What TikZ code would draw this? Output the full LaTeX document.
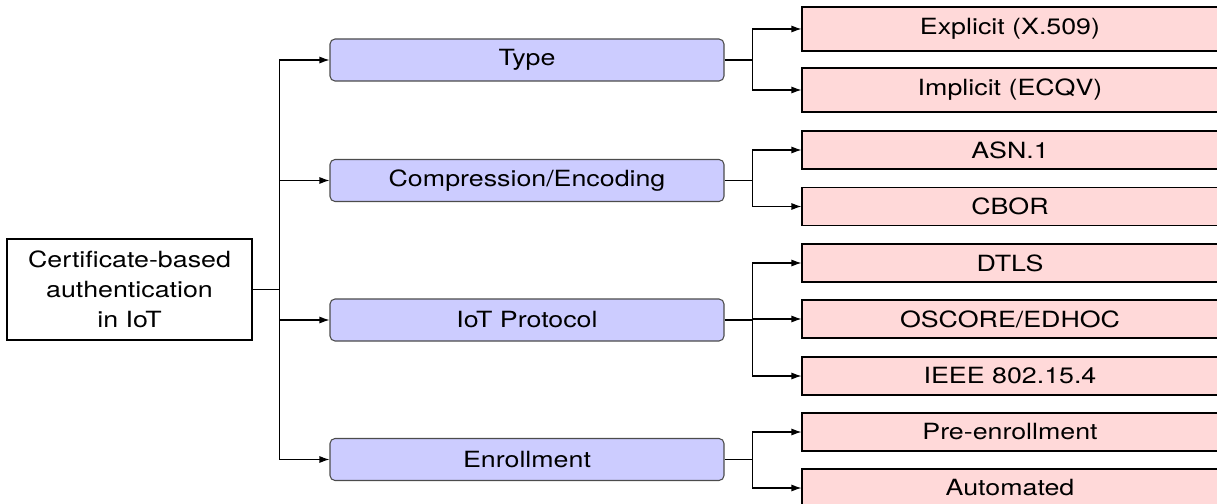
\documentclass[tikz,border=0pt]{standalone}
\usepackage{fontspec}
\setmainfont{TeX Gyre Heros}[FakeStretch=1.2]
\usetikzlibrary{arrows.meta}

\begin{document}
\begin{tikzpicture}[
  font=\fontsize{12.7}{17}\selectfont,
  line width=0.6pt,
  rootbox/.style={draw, minimum width=4.9cm, minimum height=2.02cm, align=center, inner sep=0pt},
  topic/.style={draw=black!70, fill=blue!20, rounded corners=1mm, minimum width=7.88cm, minimum height=0.84cm, inner sep=0pt},
  leaf/.style={draw, fill=red!15, minimum width=8.32cm, minimum height=0.76cm, inner sep=0pt},
  branch/.style={-{Latex[length=2mm,width=1.4mm]}}
]
  \useasboundingbox (0,0) rectangle (24.34,-10.08);
  \clip (0,0) rectangle (24.34,-10.08);

  % root of the tree
  \node[rootbox] (root) at (2.59,-5.79) {Certificate-based\\authentication\\in IoT};

  % second level
  \node[topic] (type)   at (10.54,-1.2)  {Type};
  \node[topic] (comp)   at (10.54,-3.61) {Compression/Encoding};
  \node[topic] (proto)  at (10.54,-6.4)  {IoT Protocol};
  \node[topic] (enroll) at (10.54,-9.19) {Enrollment};

  % leaves
  \node[leaf, minimum height=0.88cm] (expl) at (20.2,-0.58) {Explicit (X.509)};
  \node[leaf, minimum height=0.88cm] (impl) at (20.2,-1.8)  {Implicit (ECQV)};
  \node[leaf] (asn)    at (20.2,-3.0)  {ASN.1};
  \node[leaf] (cbor)   at (20.2,-4.13) {CBOR};
  \node[leaf] (dtls)   at (20.2,-5.26) {DTLS};
  \node[leaf] (oscore) at (20.2,-6.38) {OSCORE/EDHOC};
  \node[leaf] (ieee)   at (20.2,-7.52) {IEEE 802.15.4};
  \node[leaf] (pre)    at (20.2,-8.64) {Pre-enrollment};
  \node[leaf] (auto)   at (20.2,-9.76) {Automated};

  % connectors
  \draw (root.east) -- ++(0.54,0) coordinate (trunk);
  \foreach \m in {type,comp,proto,enroll}
    \draw[branch] (trunk) |- (\m.west);

  \foreach \m/\ls in {type/{expl,impl}, comp/{asn,cbor},
                      proto/{dtls,oscore,ieee}, enroll/{pre,auto}} {
    \draw (\m.east) -- ++(0.56,0) coordinate (fork);
    \foreach \l in \ls
      \draw[branch] (fork) |- (\l.west);
  }
\end{tikzpicture}
\end{document}
